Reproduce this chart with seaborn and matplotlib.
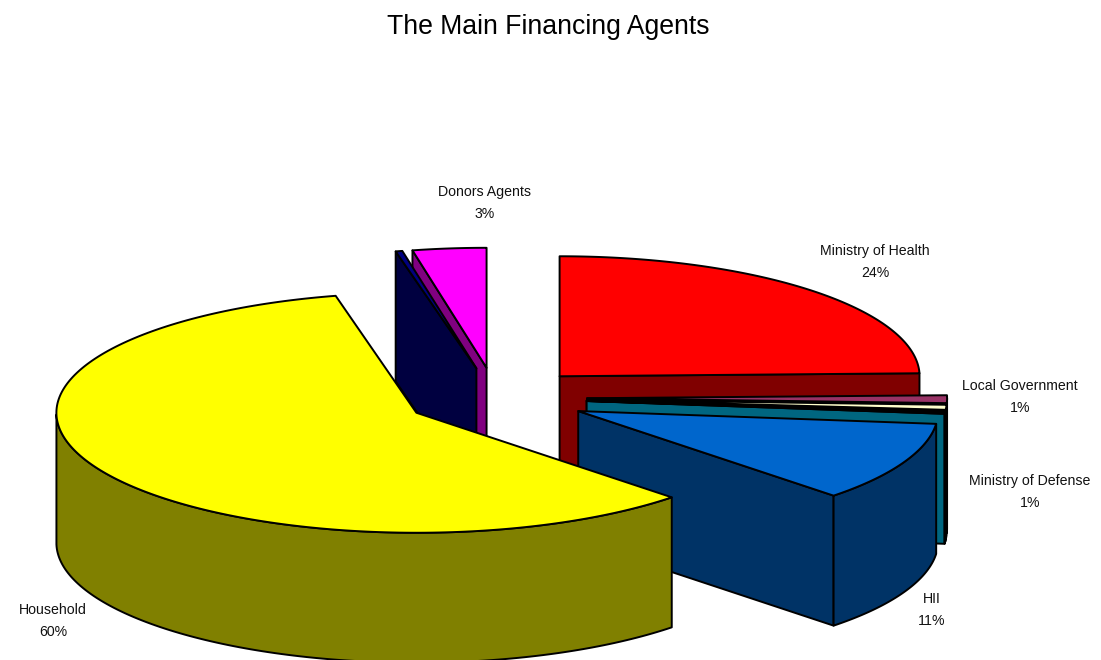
import numpy as np
import seaborn as sns
import matplotlib
matplotlib.use("Agg")
import matplotlib.pyplot as plt

# slices clockwise from 12 o'clock, share of the pie in percent
agents = ["Ministry of Health", "Local Government", "Other A", "Other B", "Ministry of Defense",
          "HII", "Household", "Other C", "Donors Agents"]
shares = [24.6, 1.05, 0.67, 0.15, 0.23, 10.75, 58.95, 0.3, 3.3]
top_colors = ["#FF0000", "#993366", "#FFFFCC", "#000000", "#006680",
              "#0066CC", "#FFFF00", "#000080", "#FF00FF"]
side_colors = ["#800000", "#000000", "#808066", "#000000", "#006680",
               "#003366", "#808000", "#000040", "#800080"]
# back to front
draw_order = [0, 1, 2, 3, 4, 8, 7, 5, 6]

labels = ["Donors Agents\n3%", "Ministry of Health\n24%", "Local Government\n1%",
          "Ministry of Defense\n1%", "HII\n11%", "Household\n60%"]
label_x = [485, 875, 1020, 1030, 932, 53]
label_y = [203, 262, 397, 492, 610, 621]

CX, CY = 496, 398    # centre of the pie, pixels
RADIUS = 360
TILT = 1 / 3
EXPLODE = 0.253
DEPTH = 130 / RADIUS


def px(x, y):
    return (x - CX) / RADIUS, (CY - y) / RADIUS


def ellipse(t):
    t = np.radians(t)
    return np.sin(t), np.cos(t) * TILT


def faces(a0, a1):
    """side faces and top of one exploded slice"""
    mid = (a0 + a1) / 2
    ax0, ay0 = ellipse(mid)
    ax0, ay0 = ax0 * EXPLODE, ay0 * EXPLODE
    t = np.linspace(a0, a1, 200)
    x, y = ellipse(t)
    x, y = x + ax0, y + ay0
    out = []
    # flat cuts, only the ones turned to the viewer
    if np.cos(np.radians(a1 + 90)) < 0:
        out.append(("side", [ax0, x[-1], x[-1], ax0], [ay0, y[-1], y[-1] - DEPTH, ay0 - DEPTH]))
    if np.cos(np.radians(a0 - 90)) < 0:
        out.append(("side", [ax0, x[0], x[0], ax0], [ay0, y[0], y[0] - DEPTH, ay0 - DEPTH]))
    # outer rim, front half only
    front = (t >= 90) & (t <= 270)
    if front.sum() > 1:
        out.append(("side", np.r_[x[front], x[front][::-1]], np.r_[y[front], y[front][::-1] - DEPTH]))
    out.append(("top", np.r_[ax0, x], np.r_[ay0, y]))
    return out


sns.set_theme(style="white")
plt.rcParams["font.family"] = ["Liberation Sans", "DejaVu Sans"]

fig = plt.figure(figsize=(11.01, 6.60), dpi=100)
ax = fig.add_axes([0, 0, 1, 1])
ax.set_xlim(px(0, 0)[0], px(1101, 0)[0])
ax.set_ylim(px(0, 660)[1], px(0, 0)[1])
ax.axis("off")

edges = np.r_[0, np.cumsum(shares)] / np.sum(shares) * 360
for i in draw_order:
    for kind, xs, ys in faces(edges[i], edges[i + 1]):
        color = top_colors[i] if kind == "top" else side_colors[i]
        ax.fill(xs, ys, facecolor=color, edgecolor="black", linewidth=1.4, joinstyle="round")

for text, x, y in zip(labels, label_x, label_y):
    lx, ly = px(x, y)
    ax.text(lx, ly, text, ha="center", va="center", multialignment="center",
            fontsize=10.2, color="#111111", linespacing=1.8)

tx, ty = px(548, 27)
ax.text(tx, ty, "The Main Financing Agents", ha="center", va="center", fontsize=19.2, color="black")

fig.savefig("out.png", dpi=100)
